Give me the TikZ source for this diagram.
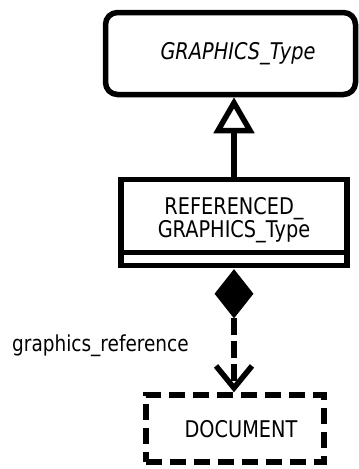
\documentclass[tikz,border=0pt]{standalone}
\usepackage{fontspec}
\setmainfont{DejaVu Sans}[FakeStretch=0.84]
\usetikzlibrary{arrows.meta,shapes.geometric,positioning}
\begin{document}
\begin{tikzpicture}[x=1pt,y=-1pt,
  lw/.style={line width=5.5pt},
  classbox/.style={draw,lw,inner sep=0pt,align=center,font=\fontsize{23}{23}\selectfont},
  dashbox/.style={classbox,dash pattern=on 16pt off 8pt},
  lbl/.style={inner sep=0pt,font=\fontsize{23}{23}\selectfont}]
\useasboundingbox (0,0) rectangle (359,469);
\node[classbox,rounded corners=12pt,minimum width=250pt,minimum height=82pt] (gt) at (230.5,53.5) {};
\node[lbl] (gttxt) at (238,54) {\itshape GRAPHICS\_Type};
\node[classbox,minimum width=226pt,minimum height=86pt] (ref) at (234,222.5) {};
\node[lbl,align=center] (reftxt) at (234,220) {REFERENCED\_\\GRAPHICS\_Type};
\coordinate (divl) at (ref.west |- 0,252.5);
\coordinate (divr) at (ref.east |- 0,252.5);
\draw[lw] (divl) -- (divr);
\draw[lw,-{Triangle[open,length=36pt,width=40pt]}] (ref.north) -- (ref.north |- gt.south);
\node[diamond,fill=black,draw=black,line width=1pt,inner sep=0pt,minimum width=38pt,minimum height=48pt,anchor=north] (dia) at ([yshift=-1pt]ref.south) {};
\node[dashbox,minimum width=178pt,minimum height=67pt] (doc) at (235,428.5) {};
\node[lbl] (doctxt) at (241,429) {DOCUMENT};
\draw[lw,dash pattern=on 17pt off 6pt,-{Straight Barb[length=22pt,width=36pt,line width=5.5pt]}] (dia.south) -- (dia.south |- doc.north);
\node[lbl,anchor=base west,font=\fontsize{22}{22}\selectfont] (lab) at (12,351) {graphics\_reference};
\end{tikzpicture}
\end{document}
